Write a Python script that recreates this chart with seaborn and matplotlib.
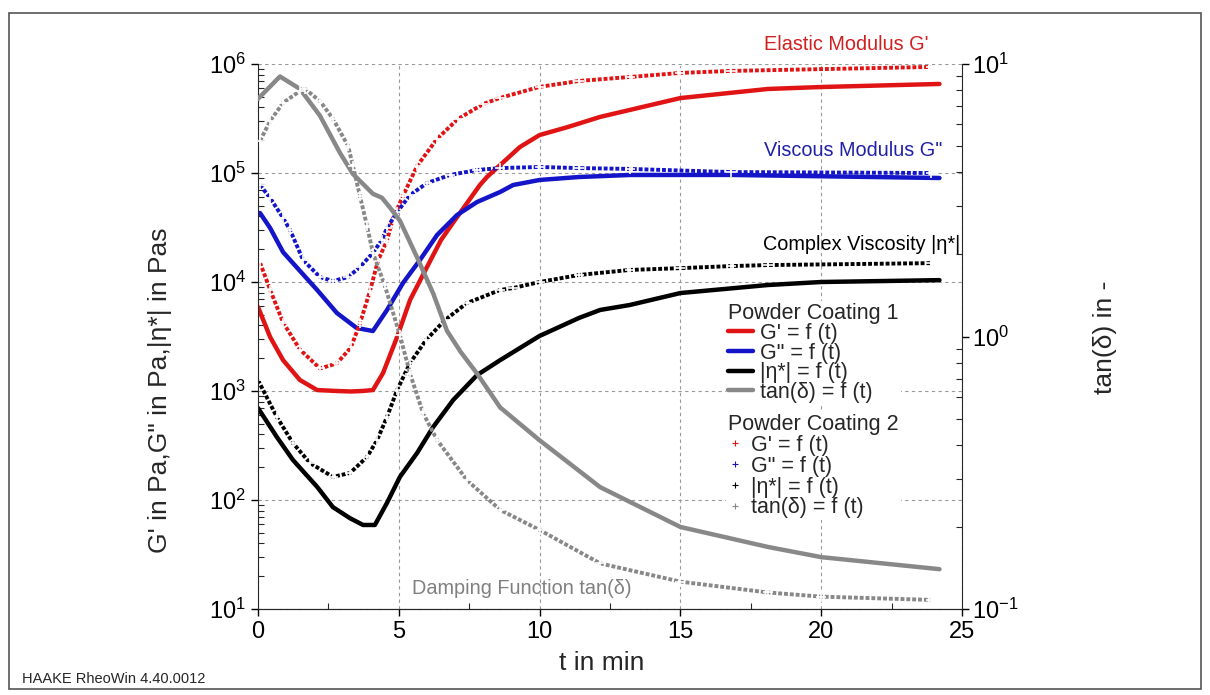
import matplotlib
matplotlib.use("Agg")
import matplotlib.pyplot as plt
import seaborn as sns
from matplotlib.lines import Line2D
from matplotlib.patches import Rectangle
from matplotlib.ticker import LogLocator, MultipleLocator, NullFormatter

# Powder Coating 1 (solid lines), t in min
t_g1 = [0, 0.43, 0.89, 1.49, 2.1, 2.8, 3.3, 3.7, 4.08, 4.44, 4.94, 5.4, 6.0, 6.5, 6.92,
        7.88, 8.13, 9.3, 10.0, 11.0, 12.15, 15.0, 18.1, 20.0, 24.2]
g1_store = [5900, 3130, 1920, 1260, 1020, 1000, 990, 1000, 1020, 1460, 3130, 6840, 13700,
            24300, 34800, 77600, 91800, 173000, 223000, 264000, 327000, 487000, 590000,
            615000, 656000]

t_g1_loss = [0.07, 0.43, 0.89, 1.24, 2.1, 2.8, 3.5, 4.08, 4.58, 5.15, 5.75, 6.36, 7.07,
             7.78, 8.6, 9.06, 10.0, 11.4, 13.2, 16.8, 24.2]
g1_loss = [43000, 31300, 18800, 14900, 8450, 5200, 3790, 3550, 5530, 9800, 15900, 27000,
           41200, 54200, 67000, 77600, 86300, 91900, 95900, 96000, 90000]

t_eta1 = [0, 0.67, 1.24, 2.1, 2.66, 3.27, 3.73, 4.15, 4.58, 5.04, 5.65, 6.22, 6.93, 7.78,
          8.6, 10.0, 11.4, 12.15, 13.2, 15.0, 18.1, 20.0, 24.2]
eta1 = [698, 378, 233, 132, 86, 68, 59, 59, 94, 163, 270, 467, 826, 1400, 1920, 3200, 4680,
        5540, 6150, 7920, 9380, 10000, 10400]

t_tan1 = [0, 0.78, 1.49, 2.2, 2.91, 3.37, 4.08, 4.4, 4.69, 5.04, 5.65, 6.22, 6.71, 7.2,
          7.78, 8.6, 10.0, 12.15, 15.0, 18.1, 20.0, 24.2]
tan1 = [7.45, 9.0, 8.1, 6.46, 4.72, 3.95, 3.34, 3.23, 2.97, 2.66, 1.95, 1.44, 1.05, 0.877,
        0.731, 0.549, 0.416, 0.280, 0.200, 0.169, 0.155, 0.140]

# Powder Coating 2 (+ markers)
t_g2 = [0.07, 0.43, 0.89, 1.49, 2.2, 2.8, 3.3, 3.62, 3.98, 4.26, 4.58, 4.79, 5.15, 5.65,
        6.36, 7.1, 8.0, 8.6, 10.0, 11.4, 13.2, 15.0, 16.8, 23.9]
g2_store = [15100, 8500, 4250, 2400, 1610, 1790, 2510, 4170, 8320, 15700, 24000, 38000,
            61700, 116000, 206000, 313000, 430000, 489000, 617000, 699000, 760000, 828000,
            864000, 940000]

t_g2_loss = [0.07, 0.43, 0.89, 1.14, 1.6, 2.2, 2.66, 3.2, 3.62, 4.08, 4.4, 4.58, 4.94, 5.4,
             6.0, 6.82, 7.78, 8.6, 10.0, 11.4, 13.2, 16.8, 23.9]
g2_loss = [77600, 59000, 38700, 30000, 15900, 11100, 10200, 11100, 13700, 18500, 24300,
           31300, 43800, 62800, 80900, 95900, 106600, 111000, 113500, 111000, 109000,
           102000, 100000]

t_eta2 = [0, 0.67, 1.24, 1.85, 2.66, 3.27, 3.87, 4.23, 4.58, 4.94, 5.4, 5.97, 6.64, 7.42,
          8.6, 9.06, 10.0, 11.4, 13.2, 15.0, 16.8, 18.1, 23.9]
eta2 = [1260, 577, 333, 218, 163, 177, 248, 355, 577, 1020, 1810, 2940, 4480, 6410, 8450,
        8800, 10000, 11600, 12900, 13400, 14000, 14300, 14900]

t_tan2 = [0.07, 0.43, 0.89, 1.49, 1.67, 2.2, 2.66, 3.2, 3.37, 3.62, 3.87, 4.08, 4.5, 5.04,
          5.4, 5.86, 6.36, 7.42, 8.6, 10.0, 12.15, 15.0, 18.1, 20.0, 23.9]
tan2 = [5.22, 6.18, 7.2, 7.96, 8.1, 7.31, 6.3, 5.0, 4.23, 3.28, 2.55, 2.03, 1.54, 1.01,
        0.73, 0.524, 0.417, 0.297, 0.231, 0.195, 0.147, 0.126, 0.115, 0.111, 0.108]

RED = "#e01414"
BLUE = "#1414c8"
BLACK = "#000000"
GRAY = "#888888"

sns.set_style("ticks")
plt.rcParams["font.family"] = ["Liberation Sans", "DejaVu Sans"]

W, H = 1210, 695
fig = plt.figure(figsize=(W / 100, H / 100), dpi=100)
ax = fig.add_axes([258 / W, 1 - 609 / H, 704 / W, 545 / H])
ax2 = ax.twinx()

solid = dict(lw=3.2, legend=False)
plus = dict(lw=2.8, ls=(0, (1.0, 0.5)), marker="+", ms=7, mew=1.2, legend=False)

sns.lineplot(x=t_g1, y=g1_store, ax=ax, color=RED, **solid)
sns.lineplot(x=t_g1_loss, y=g1_loss, ax=ax, color=BLUE, **solid)
sns.lineplot(x=t_eta1, y=eta1, ax=ax, color=BLACK, **solid)
sns.lineplot(x=t_g2, y=g2_store, ax=ax, color=RED, **plus)
sns.lineplot(x=t_g2_loss, y=g2_loss, ax=ax, color=BLUE, **plus)
sns.lineplot(x=t_eta2, y=eta2, ax=ax, color=BLACK, **plus)
sns.lineplot(x=t_tan1, y=tan1, ax=ax2, color=GRAY, **solid)
sns.lineplot(x=t_tan2, y=tan2, ax=ax2, color=GRAY, **plus)

ax.set_yscale("log")
ax2.set_yscale("log")
ax.set_xlim(0, 25)
ax.set_ylim(10, 1e6)
ax2.set_ylim(0.1, 10)
ax.set_xticks([0, 5, 10, 15, 20, 25])
ax.xaxis.set_minor_locator(MultipleLocator(2.5))
for a in (ax, ax2):
    a.yaxis.set_minor_locator(LogLocator(base=10, subs=range(2, 10), numticks=20))
    a.yaxis.set_minor_formatter(NullFormatter())
    a.tick_params(which="major", direction="out", length=5, width=1, labelsize=17, colors="black")
    a.tick_params(which="minor", direction="in", length=4, width=0.8)
    a.spines["top"].set_visible(False)
    a.set_xlabel("")
    a.set_ylabel("")
ax.spines["right"].set_visible(False)
ax2.spines["left"].set_visible(False)
ax2.tick_params(axis="y", pad=2)

ax.grid(True, which="major", color="#999999", ls=(0, (3, 3)), lw=0.8)
ax2.grid(False)

# axis titles
fig.text(160 / W, 1 - 390 / H, "G' in Pa,G\" in Pa,|η*| in Pas", rotation=90,
         ha="center", va="center", fontsize=19)
fig.text(1105 / W, 1 - 337 / H, "tan(δ) in -", rotation=90, ha="center", va="center",
         fontsize=19)
fig.text(602 / W, 1 - 663 / H, "t in min", ha="center", va="center", fontsize=19)

# curve captions
fig.text(928 / W, 1 - 45 / H, "Elastic Modulus G'", color="#d02020", ha="right",
         va="center", fontsize=14.3)
fig.text(942 / W, 1 - 150 / H, 'Viscous Modulus G"', color="#2020a8", ha="right",
         va="center", fontsize=14.3)
fig.text(960 / W, 1 - 245 / H, "Complex Viscosity |η*|", color="black", ha="right",
         va="center", fontsize=14.3)
fig.text(412 / W, 1 - 588 / H, "Damping Function tan(δ)", color="#808080", ha="left",
         va="center", fontsize=14.3)

fig.text(22 / W, 1 - 679 / H, "HAAKE RheoWin 4.40.0012", ha="left", va="center",
         fontsize=10.5)

# legends
labels = ["G' = f (t)", 'G" = f (t)', "|η*| = f (t)", "tan(δ) = f (t)"]
colors = [RED, BLUE, BLACK, GRAY]
leg_kw = dict(loc="upper left", bbox_transform=fig.transFigure, frameon=True,
              fancybox=False, edgecolor="none", facecolor="white", framealpha=1,
              fontsize=15.5, title_fontsize=15.5, borderpad=0.1, borderaxespad=0,
              alignment="left")
h1 = [Line2D([], [], color=c, lw=3.2) for c in colors]
leg1 = ax2.legend(h1, labels, title="Powder Coating 1", bbox_to_anchor=(726 / W, 1 - 301 / H),
                  labelspacing=-0.06, handlelength=1.15, handletextpad=0.35, **leg_kw)
ax2.add_artist(leg1)
h2 = [Line2D([], [], color=c, ls="none", marker="+", ms=5, mew=0.8) for c in colors]
leg2 = ax2.legend(h2, labels, title="Powder Coating 2", bbox_to_anchor=(726 / W, 1 - 412 / H),
                  labelspacing=-0.01, handlelength=0.6, handletextpad=0.45, **leg_kw)

fig.patches.append(Rectangle((9 / W, 1 - 689 / H), 1192 / W, 676 / H, transform=fig.transFigure,
                             fill=False, edgecolor="#555555", lw=1.2))

fig.savefig("out.png", dpi=100)
